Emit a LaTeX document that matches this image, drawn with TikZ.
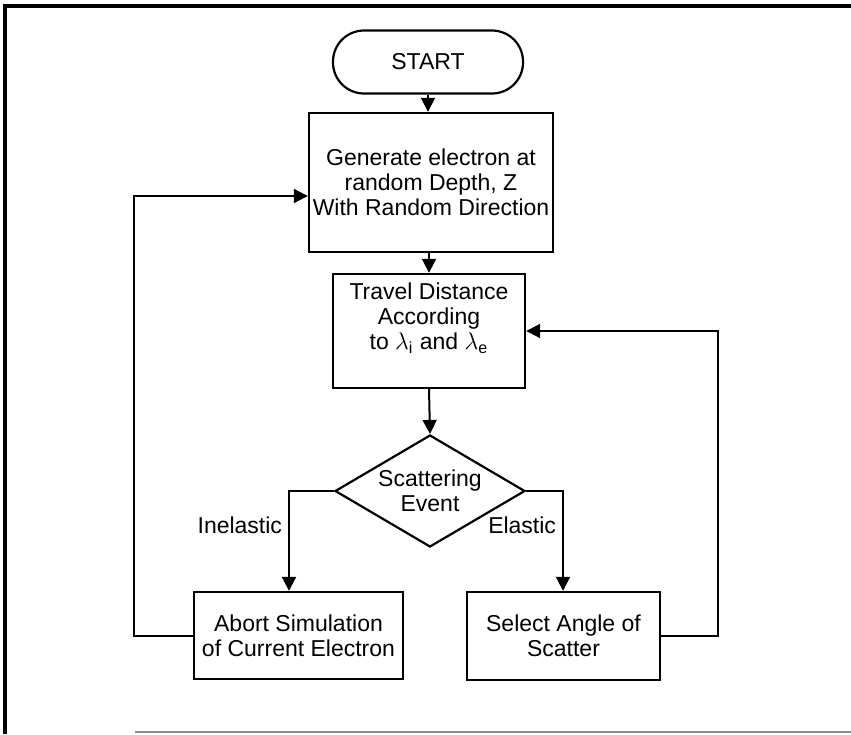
\documentclass[tikz,border=0pt]{standalone}
\usepackage{fontspec}
\setmainfont{Liberation Sans}
\usepackage{tikz}
\usetikzlibrary{arrows.meta, calc, shapes.geometric, positioning}
\tikzset{
  txt/.style     ={font=\fontsize{11.5}{12.6}\selectfont, align=center},
  procbox/.style ={txt, draw, rectangle, inner sep=0pt, line width=1.2pt},
  termvtx/.style ={txt, draw, rectangle, rounded corners=15.5pt, inner sep=0pt, line width=1.1pt,
                   minimum width=95pt, minimum height=31.5pt},
  decvtx/.style  ={txt, draw, diamond, aspect=1.7, inner sep=0pt, line width=1.1pt,
                   minimum width=95pt, minimum height=56pt},
  flow/.style    ={-{Triangle[length=7pt, width=7pt]}, line width=1pt},
  elbl/.style    ={txt, inner sep=3pt},
  frame/.style   ={line width=2pt},
}

\begin{document}
\begin{tikzpicture}[x=0.5pt, y=-0.5pt]
  \useasboundingbox (0,0) rectangle (851,734);
  % page frame
  \draw[frame] (5,734) -- (5,6) -- (851,6);
  \draw[line width=0.6pt, black!45] (135,732) -- (851,732);

  \node[termvtx] (start)  at (428,62)      {START};
  \node[procbox, minimum width=122pt, minimum height=69.5pt] (gen) at (431,182.5)
    {Generate electron at\\random Depth, Z\\With Random Direction};
  \node[procbox, minimum width=96pt, minimum height=57pt] (travel) at (429,331)
    {Travel Distance\\According\\to $\lambda_\mathrm{i}$ and $\lambda_\mathrm{e}$\\[2pt]};
  \node[decvtx] (scat) at (430,491) {Scattering\\Event};
  \node[procbox, minimum width=104.5pt, minimum height=43.5pt] (abort) at (298.5,635.5)
    {Abort Simulation\\of Current Electron};
  \node[procbox, minimum width=96.5pt, minimum height=44pt] (sel) at (563.5,636)
    {Select Angle of\\Scatter};

  % corners of the branches and the return loops
  \coordinate (inel)  at (289,491);
  \coordinate (elas)  at (563,491);
  \coordinate (lback) at (134,196);
  \coordinate (rback) at (718,331);

  \draw[flow] (start.south) -- (start.south |- gen.north);
  \draw[flow] (gen.south -| travel.north) -- (travel.north);
  \draw[flow] (travel.south) -- (scat.north);
  \draw[flow] (scat.west) -- (inel) -- node[elbl, pos=0.34, left] {Inelastic} (inel |- abort.north);
  \draw[flow] (scat.east) -- (elas) -- node[elbl, pos=0.34, left] {Elastic} (elas |- sel.north);
  \draw[flow] (abort.west) -| (lback) -- (lback -| gen.west);
  \draw[flow] (sel.east) -| (rback) -- (travel.east);
\end{tikzpicture}
\end{document}
